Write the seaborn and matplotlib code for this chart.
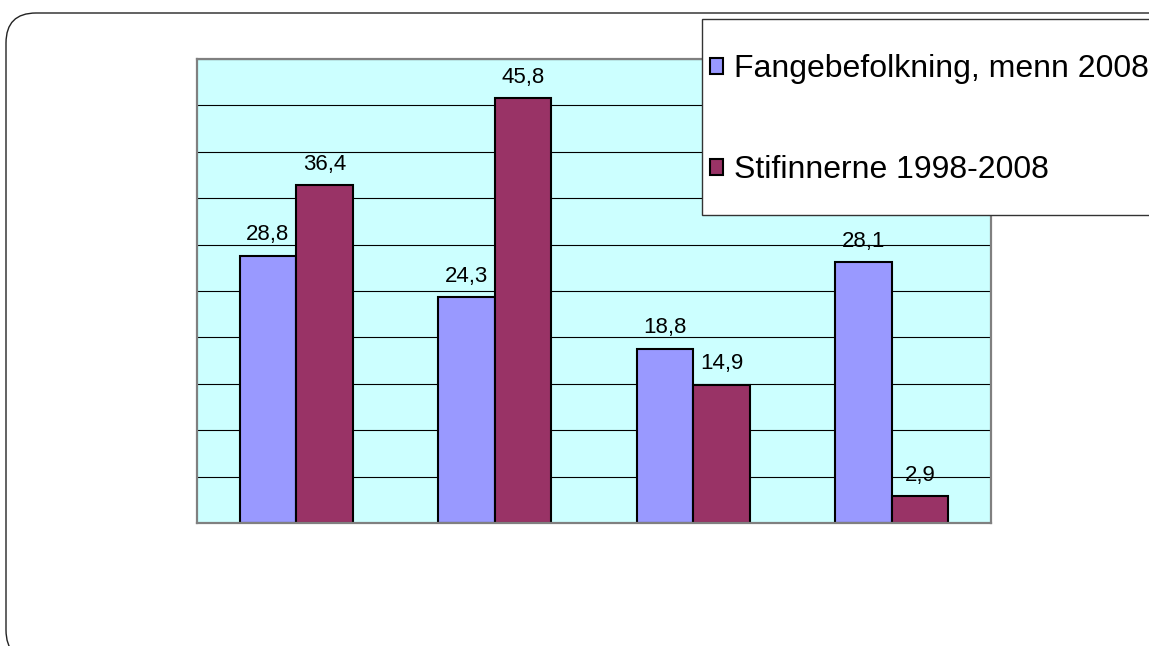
import matplotlib
matplotlib.use("Agg")
import matplotlib.pyplot as plt
from matplotlib.patches import FancyBboxPatch, Rectangle
from matplotlib.transforms import IdentityTransform
import seaborn as sns
import pandas as pd

# ---- data ----
categories = ["Kategori 1", "Kategori 2", "Kategori 3", "Kategori 4"]
series_names = ["Fangebefolkning, menn 2008", "Stifinnerne 1998-2008"]
fange = [28.8, 24.3, 18.8, 28.1]
stifinnerne = [36.4, 45.8, 14.9, 2.9]
colors = ["#9999FF", "#993366"]

df = pd.DataFrame({
    "kategori": categories * 2,
    "verdi": fange + stifinnerne,
    "serie": [series_names[0]] * 4 + [series_names[1]] * 4,
})

sns.set_theme(style="white")
plt.rcParams["font.family"] = ["Liberation Sans", "DejaVu Sans"]
plt.rcParams["text.color"] = "black"

W, H, DPI = 1149, 646, 100
fig = plt.figure(figsize=(W / DPI, H / DPI), dpi=DPI)
ax = fig.add_axes([197 / W, 1 - 523 / H, (991 - 197) / W, (523 - 59) / H])

sns.barplot(data=df, x="kategori", y="verdi", hue="serie", palette=colors,
            saturation=1, width=0.571, edgecolor="black", linewidth=1.5, ax=ax)

ax.set_facecolor("#CCFFFF")
ax.set_ylim(0, 50)
ax.set_yticks(range(0, 51, 5))
ax.set_yticklabels([])
ax.set_xticklabels([])
ax.tick_params(length=0)
ax.set_xlabel("")
ax.set_ylabel("")
ax.set_axisbelow(True)
ax.yaxis.grid(True, color="black", linewidth=0.8)
for s in ax.spines.values():
    s.set_visible(True)
    s.set_color("#808080")
    s.set_linewidth(1.6)

for cont in ax.containers:
    vals = [p.get_height() for p in cont.patches]
    ax.bar_label(cont, labels=[f"{v:.1f}".replace(".", ",") for v in vals],
                 padding=7.5, fontsize=16, color="black")

handles, labels = ax.get_legend_handles_labels()
ax.get_legend().remove()

# outer rounded frame
frame = FancyBboxPatch((6, -14), 1200, H - 13 + 14,
                       boxstyle="round,pad=0,rounding_size=30",
                       transform=IdentityTransform(), facecolor="none",
                       edgecolor="#222222", linewidth=1.0, zorder=1)
fig.patches.append(frame)

# legend box
lbox = Rectangle((702, H - 215), 600, 196, transform=IdentityTransform(),
                 facecolor="white", edgecolor="#333333", linewidth=1.0, zorder=5)
fig.patches.append(lbox)

leg = fig.legend(handles, labels, loc="upper left",
                 bbox_to_anchor=(710 / W, 1 - 54 / H),
                 frameon=False, fontsize=23, borderpad=0, borderaxespad=0,
                 handlelength=0.4, handleheight=0.4, handletextpad=0.35,
                 labelspacing=2.23, labelcolor="black")
leg.set_zorder(6)

fig.savefig("out.png", dpi=DPI)
